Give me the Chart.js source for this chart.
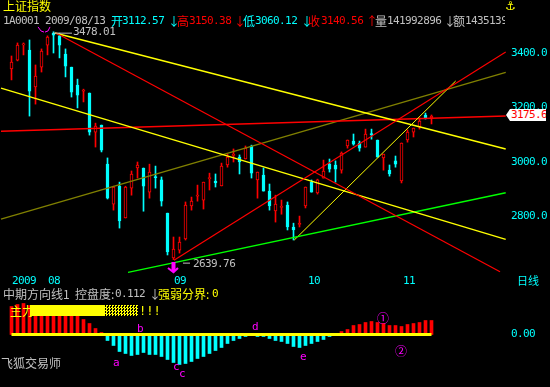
<!DOCTYPE html>
<html><head><meta charset="utf-8">
<script src="https://cdn.jsdelivr.net/npm/chart.js@4"></script>
<style>
html,body{margin:0;padding:0;background:#000;width:550px;height:387px;overflow:hidden}
canvas{position:absolute;left:0}
.t{position:absolute;white-space:pre;line-height:12px;height:12px}
</style></head><body>
<canvas id="main" width="550" height="290" style="top:0"></canvas>
<canvas id="sub" width="550" height="97" style="top:290px"></canvas>
<div id="band" style="position:absolute;left:30px;top:305px;width:75px;height:11px;background:#ff0"></div>
<div id="dither" style="position:absolute;left:105px;top:305px;width:33px;height:11px;background:repeating-conic-gradient(#ff0 0 25%,#000 0 50%) 0 0/3px 3px"></div>
<div id="txt"></div>
<script>
const opens=[3341,3374,3430,3411,3275,3348,3429,3473,3463,3396,3348,3282,3260,3253,3109,3135,2991,2844,2910,2793,2903,2977,2977,2888,2945,2933,2811,2646,2675,2716,2837,2873,2859,2938,2929,2911,2988,3023,3017,3010,3058,2933,2951,2892,2819,2832,2841,2760,2769,2837,2925,2885,2940,2991,2988,2969,3058,3076,3069,3054,3104,3080,3014,2969,3003,2929,3080,3109,3128,3172,3161];
const closes=[3367,3429,3434,3260,3315,3407,3459,3466,3429,3352,3256,3245,3264,3109,3131,3043,2866,2907,2782,2907,2955,2988,2910,2962,2941,2855,2668,2679,2704,2841,2855,2877,2925,2942,2922,2984,3017,3027,2999,3050,2958,2962,2892,2837,2844,2836,2760,2749,2773,2907,2888,2933,2966,2973,2973,3032,3080,3065,3050,3102,3100,3017,3028,2955,2991,3069,3109,3124,3150,3161,3168];
const highs=[3389,3437,3437,3448,3356,3415,3463,3478,3473,3415,3348,3304,3267,3253,3142,3135,3014,2910,2925,2910,2966,2999,2977,2991,2984,2944,2811,2723,2723,2852,2870,2914,2925,2958,2955,2995,3028,3047,3025,3058,3061,2962,2977,2918,2877,2859,2852,2774,2800,2907,2933,2936,3006,3010,3003,3036,3080,3102,3076,3120,3120,3080,3028,2988,3021,3069,3117,3124,3161,3179,3172];
const lows=[3301,3371,3393,3168,3212,3330,3393,3400,3382,3312,3238,3198,3220,3098,3054,3036,2863,2822,2756,2793,2877,2940,2818,2866,2903,2837,2657,2640,2664,2712,2822,2855,2826,2896,2907,2911,2980,2999,2955,3010,2940,2866,2892,2822,2778,2807,2749,2712,2760,2830,2888,2881,2940,2962,2925,2958,3050,3061,3039,3054,3083,3017,2969,2947,2980,2922,3072,3091,3120,3157,3139];
const indicator=[.28,.30,.31,.29,.27,.26,.25,.24,.23,.22,.21,.19,.15,.11,.06,.02,-.06,-.11,-.17,-.19,-.21,-.20,-.18,-.20,-.20,-.22,-.25,-.28,-.30,-.29,-.27,-.24,-.22,-.19,-.16,-.13,-.09,-.06,-.04,-.02,-.005,-.02,-.02,-.04,-.06,-.07,-.09,-.12,-.13,-.11,-.09,-.07,-.05,-.02,-.005,.03,.05,.09,.10,.12,.13,.12,.11,.09,.09,.08,.10,.11,.12,.14,.14];
const priceTicks=[2800,3000,3200,3400];
const monthTicks=[2.08,7.08,28.08,50.42,66.25];
const monthLabels=['2009','08','09','10','11'];
const yellowUpper=[[7.25,3473.6],[82.37,3046.7]];
const yellowLower=[[-1.75,3271],[82.37,2714.4]];
const redDown=[[7.42,3473.6],[81.42,2595]];
const redUp=[[27.08,2638],[82.37,3403.6]];
const oliveLine=[[-1.75,2789],[82.37,3329]];
const greenLine=[[19.42,2593],[82.37,2886]];
const redFlat=[[-1.75,3112],[82.37,3168]];
const yellowThin=[[47.13,2712],[74.03,3297]];
const leaderHigh=[[6.92,3473],[10.08,3473]];
const leaderLow=[[28.58,2627],[29.75,2627]];
const arrowStem=[[27,2631],[27,2598]];
const arrowHead=[[26.08,2609],[27,2594],[27.75,2609]];
const smileLeft=[[4.42,3496],[4.92,3481],[5.42,3477]];
const smileRight=[[5.58,3477],[6.08,3481],[6.42,3496]];
const zeroLine=[[0,0],[70,0]];

const RED='#ff0000',CY='#00ffff',GR='#c0c0c0',YE='#ffff00',MG='#ff00ff';
const MONO='"DejaVu Sans Mono"',CJK='"Noto Sans CJK SC"';
const pts=a=>a.map(p=>({x:p[0],y:p[1]}));
const line=(d,c,w,o)=>({type:'line',data:pts(d),borderColor:c,borderWidth:w,pointRadius:0,tension:0,order:o||1});
const xMin=-1.9167,xMax=82.4167;
const idx=opens.map((_,i)=>i);
const up=i=>closes[i]>=opens[i];
const spacing={id:'spacing',beforeDraw(c){c.ctx.letterSpacing='-0.6px';}};
const noPadX=s=>{s.height=16;s.paddingLeft=0;s.paddingRight=0;s.paddingTop=0;s.paddingBottom=0;};
const noPadY=s=>{s.width=44;s.paddingTop=0;s.paddingBottom=0;s.paddingLeft=0;s.paddingRight=0;};

new Chart(document.getElementById('main'),{
 type:'bar',plugins:[spacing],
 data:{datasets:[
  {data:idx.map(i=>({x:i,y:[lows[i],highs[i]]})),backgroundColor:idx.map(i=>up(i)?RED:CY),barThickness:1,grouped:false,order:6},
  {data:idx.map(i=>({x:i,y:[opens[i],closes[i]]})),backgroundColor:idx.map(i=>up(i)?'#000':CY),borderColor:idx.map(i=>up(i)?RED:CY),borderWidth:1,borderSkipped:false,barThickness:3,grouped:false,order:5},
  line(oliveLine,'#808000',1.4,4),
  line(greenLine,'#00ff00',1.4,3),
  line(yellowThin,YE,1,3),
  line(redFlat,RED,1.4,3),
  line(redUp,RED,1.2,2),
  line(redDown,RED,1.2,2),
  line(yellowUpper,YE,1.4,2),
  line(yellowLower,YE,1.4,2),
  line(leaderHigh,GR,1,1),
  line(leaderLow,GR,1,1),
  line(arrowStem,MG,4,1),
  line(arrowHead,MG,2,1),
  line(smileLeft,MG,1,1),
  line(smileRight,MG,1,1)
 ]},
 options:{responsive:false,animation:false,devicePixelRatio:1,layout:{padding:0,autoPadding:false},
  plugins:{legend:{display:false},tooltip:{enabled:false},title:{display:false}},
  scales:{
   x:{type:'linear',min:xMin,max:xMax,offset:false,grid:{display:false,drawTicks:false},border:{display:false},
    afterBuildTicks:s=>{s.ticks=monthTicks.map(v=>({value:v}));},
    afterFit:noPadX,
    ticks:{autoSkip:false,maxRotation:0,minRotation:0,padding:1,color:CY,font:{family:MONO,size:11},
     callback:v=>monthLabels[monthTicks.indexOf(v)]}},
   y:{position:'right',min:2587,max:3595,grid:{display:false,drawTicks:false},border:{display:false},
    afterBuildTicks:s=>{s.ticks=priceTicks.map(v=>({value:v}));},
    afterFit:noPadY,
    ticks:{padding:5,color:CY,font:{family:MONO,size:11},callback:v=>Number(v).toFixed(1)}}
  }}
});
new Chart(document.getElementById('sub'),{
 type:'bar',plugins:[spacing],
 data:{datasets:[
  {data:idx.map(i=>({x:i,y:indicator[i]})),backgroundColor:idx.map(i=>indicator[i]>=0?RED:CY),barThickness:3,order:2},
  line(zeroLine,YE,3,1)
 ]},
 options:{responsive:false,animation:false,devicePixelRatio:1,layout:{padding:0,autoPadding:false},
  plugins:{legend:{display:false},tooltip:{enabled:false}},
  scales:{
   x:{type:'linear',min:xMin,max:xMax,offset:false,display:false},
   y:{position:'right',min:-.525,max:.445,grid:{display:false,drawTicks:false},border:{display:false},
    afterBuildTicks:s=>{s.ticks=[{value:0}];},
    afterFit:noPadY,
    ticks:{padding:5,color:CY,font:{family:MONO,size:11},callback:v=>Number(v).toFixed(2)}}
  }}
});

const M='11px '+MONO, C='12px '+CJK, A='12px '+CJK;
const labels=[
 ['上证指数',3,6,YE,C],
 ['1A0001',3,21,GR,M],['2009/08/13',45,21,GR,M],
 ['开',111,21,CY,C],['3112.57',122,21,CY,M],['↓',168,21,CY,A],
 ['高',177,21,RED,C],['3150.38',189,21,RED,M],['↓',234,21,RED,A],
 ['低',243,21,CY,C],['3060.12',255,21,CY,M],['↓',301,21,CY,A],
 ['收',308,21,RED,C],['3140.56',321,21,RED,M],['↑',366,21,RED,A],
 ['量',375,21,GR,C],['141992896',387,21,GR,M],['↓',444,21,GR,A],
 ['额',453,21,GR,C],['1435139',465,21,GR,M],
 ['3478.01',73,32,GR,M],['2639.76',193,264,GR,M],
 ['日线',517,280,CY,'11px '+CJK],
 ['中期方向线1',3,294,GR,C],['控盘度:',75,294,GR,C],['0.112',115,294,GR,M],['↓',149,294,GR,A],
 ['强弱分界:',158,294,YE,C],['0',212,294,YE,M],
 ['主力',10,311,YE,C],['!!!',139,311,YE,'12px '+MONO],
 ['飞狐交易师',1,363,GR,C],
 ['a',113,363,MG,M],['b',137,329,MG,M],['c',173,367,MG,M],['c',179,374,MG,M],['d',252,327,MG,M],['e',300,357,MG,M],
 ['①',377,318,MG,C],['②',395,351,MG,C],
 ['⚓',505,6,YE,'bold 12px "DejaVu Sans"']
];
const host=document.getElementById('txt');
labels.forEach(l=>{const d=document.createElement('div');d.className='t';d.textContent=l[0];
 d.style.cssText='left:'+l[1]+'px;top:'+(l[2]-6)+'px;color:'+l[3]+';font:'+l[4]+';line-height:12px;'+(l[4]===M?'letter-spacing:-0.6px;':'')+(l[0]==='1435139'?'width:40px;overflow:hidden;':'');host.appendChild(d);});
const tag=document.createElement('div');tag.textContent='3175.6';
tag.style.cssText='position:absolute;left:506px;top:109px;width:35px;height:12px;padding-left:5px;background:#fff;color:#f00;font:11px '+MONO+';letter-spacing:-0.6px;line-height:12px;white-space:pre;clip-path:polygon(0 50%,4px 0,100% 0,100% 100%,4px 100%)';
document.body.appendChild(tag);
</script>
</body></html>
